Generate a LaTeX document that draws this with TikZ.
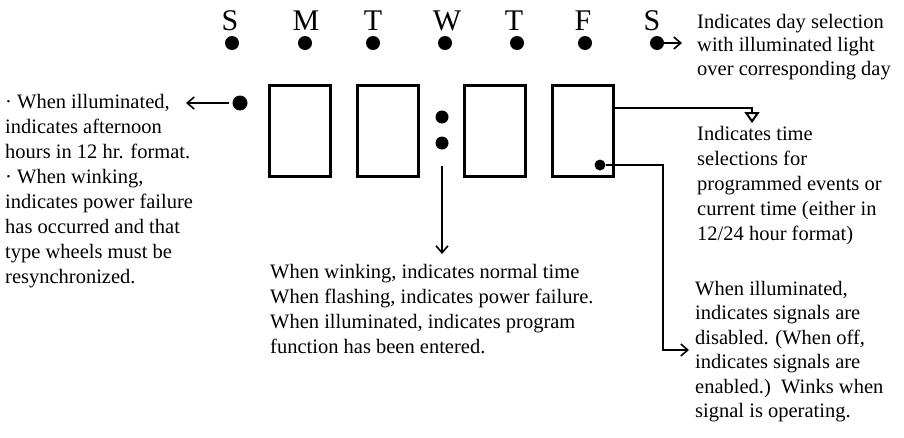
\documentclass[tikz,border=0pt]{standalone}
\usepackage{fontspec}
\setmainfont{Liberation Serif}
\usetikzlibrary{arrows.meta}
\begin{document}
\begin{tikzpicture}[x=1pt,y=-1pt,
  digit/.style={draw,line width=3pt,minimum width=61pt,minimum height=91pt,inner sep=0pt},
  lamp/.style={circle,fill,inner sep=0pt,minimum size=#1},
  lamp/.default=14pt,
  day/.style={font=\fontsize{30}{30}\selectfont,anchor=base,inner sep=0pt},
  % multi-line notes are placed by the baseline of their last line
  note/.style={font=\fontsize{20.5}{25}\selectfont,align=left,anchor=base west,inner sep=0pt},
  lead/.style={line width=2pt},
  tip/.style={-{Straight Barb[length=7pt,width=12pt,line width=1.6pt]}},
  tri/.style={-{Triangle[open,length=11pt,width=15pt,line width=2pt]}}
]
\useasboundingbox (0,0) rectangle (904,437);

% day letters and their lamps
\foreach \name/\lx/\dx/\txt in {d1/230/232/S, d2/306/305/M, d3/373/373/T, d4/447/445/W,
                                d5/514/517/T, d6/583/585/F, d7/652/657/S}{
  \node[day] (\name l) at (\lx,30) {\txt};
  \node[lamp] (\name) at (\dx,43) {};
}

% four digit windows
\node[digit] (box1) at (300,131) {};
\node[digit] (box2) at (388,131) {};
\node[digit] (box3) at (495,131) {};
\node[digit] (box4) at (582.5,131) {};

% PM lamp, colon lamps, signal lamp
\node[lamp=15pt] (ldot) at (240,103) {};
\node[lamp=13pt] (colA) at (442,117) {};
\node[lamp=13pt] (colB) at (442,143) {};
\node[lamp=11pt] (pdot) at (600,165) {};

% arrow end points
\coordinate (tL) at (186,103);
\coordinate (tS) at (682,43);
\coordinate (tA) at (752,123);
\coordinate (tC) at (442,254);
\coordinate (kB) at (663,350);
\coordinate (tB) at (689,350);

% leader lines
\draw[lead,tip] ([xshift=-3pt]ldot.west) -- (tL);
\draw[lead,tip] (d7.east) -- (tS);
\draw[lead,tri] ([yshift=-24pt]box4.north east) -| (tA);
\draw[lead,tip] ([yshift=-16pt]colB.south) -- (tC);
\draw[lead,tip] (pdot.east) -| (kB) -- (tB);

% explanatory notes
\node[note] (nL) at (5,283) {· When illuminated,\\ indicates afternoon\\ hours in 12 hr. format.\\ · When winking,\\ indicates power failure\\ has occurred and that\\ type wheels must be\\ resynchronized.};
\node[note,font=\fontsize{20.5}{23.5}\selectfont] (nD) at (697,75) {Indicates day selection\\ with illuminated light\\ over corresponding day};
\node[note] (nT) at (697,240) {Indicates time\\ selections for\\ programmed events or\\ current time (either in\\ 12/24 hour format)};
\node[note,font=\fontsize{20.5}{24.5}\selectfont] (nS) at (695,417.5) {When illuminated,\\ indicates signals are\\ disabled. (When off,\\ indicates signals are\\ enabled.)\ \ Winks when\\ signal is operating.};
\node[note] (nM) at (270,353) {When winking, indicates normal time\\ When flashing, indicates power failure.\\ When illuminated, indicates program\\ function has been entered.};
\end{tikzpicture}
\end{document}
